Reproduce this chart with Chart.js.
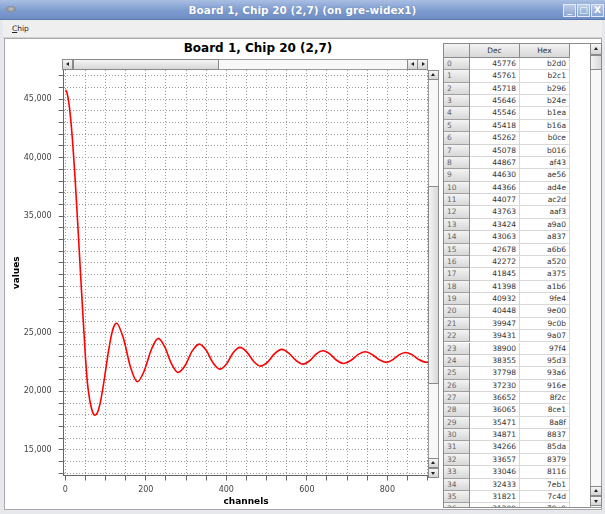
<!DOCTYPE html>
<html>
<head>
<meta charset="utf-8">
<script src="https://cdn.jsdelivr.net/npm/chart.js@4.4.1/dist/chart.umd.min.js"></script>
<style>
  html, body { margin: 0; padding: 0; }
  body { width: 605px; height: 514px; position: relative; overflow: hidden; background: #e6e8ec; font-family: "DejaVu Sans", sans-serif; }
  .abs { position: absolute; box-sizing: border-box; }
  #titlebar { left: 0; top: 0; width: 605px; height: 20px; background: linear-gradient(#a9bee2, #7e9cd0 55%, #6e8dc4); border-bottom: 1px solid #5b79ad; color: #fff; text-align: center; font: bold 10.5px "DejaVu Sans"; line-height: 20px; text-shadow: 0 0 1px #4a6698; }
  #winicon { left: 6px; top: 6px; width: 10px; height: 6px; border-radius: 50%; background: radial-gradient(#c8c8c8, #6a6a6a); }
  .wbtn { top: 4px; width: 13px; height: 13px; border: 1px solid #e4ebf7; background: linear-gradient(#bccbe8, #8ba6d4); color: #fff; font: bold 9px "DejaVu Sans"; line-height: 11px; text-align: center; }
  #menubar { left: 3px; top: 20px; width: 599px; height: 18px; background: #efefef; border-bottom: 1px solid #d2d2d2; }
  #menuchip { left: 12px; top: 24px; font: 7.5px "DejaVu Sans"; color: #222; }
  #content { left: 4px; top: 38px; width: 598px; height: 472px; background: #fff; border: 1px solid #a9a9a9; }
  #charttitle { left: 0; top: 40px; width: 516px; text-align: center; font: bold 12px "DejaVu Sans"; line-height: 16px; color: #000; }
  #plotwrap { left: 0; top: 40px; width: 440px; height: 474px; }
  .track { background: #f8f8f8; border: 1px solid #9c9c9c; }
  .btn { background: linear-gradient(#f6f6f6, #d4d4d4); border: 1px solid #8a8a8a; }
  .thumbh { background: linear-gradient(#f4f4f4, #d8d8d8); border: 1px solid #8a8a8a; }
  .thumbv { background: linear-gradient(90deg, #f4f4f4, #d8d8d8); border: 1px solid #8a8a8a; }
  .up::after, .dn::after, .lf::after, .rt::after { content: ""; position: absolute; left: 50%; top: 50%; width: 0; height: 0; }
  .up::after { margin: -2px 0 0 -2.5px; border-left: 2.5px solid transparent; border-right: 2.5px solid transparent; border-bottom: 3px solid #222; }
  .dn::after { margin: -1px 0 0 -2.5px; border-left: 2.5px solid transparent; border-right: 2.5px solid transparent; border-top: 3px solid #222; }
  .lf::after { margin: -2.5px 0 0 -2px; border-top: 2.5px solid transparent; border-bottom: 2.5px solid transparent; border-right: 3px solid #222; }
  .rt::after { margin: -2.5px 0 0 -1px; border-top: 2.5px solid transparent; border-bottom: 2.5px solid transparent; border-left: 3px solid #222; }
  .grip { width: 10px; height: 5px; background-image: radial-gradient(#888 35%, transparent 40%); background-size: 2px 2px; }
  #tablebox { left: 443px; top: 43px; width: 148px; height: 465px; border: 1px solid #8c8c8c; background: #fff; overflow: hidden; }
  .cell { position: absolute; box-sizing: border-box; font: 7.5px "DejaVu Sans"; white-space: nowrap; overflow: hidden; }
  .rh { background: linear-gradient(#f3f3f3, #d8d8d8); border-right: 1px solid #8c8c8c; border-bottom: 1px solid #a0a0a0; color: #666; padding-left: 3px; }
  .dc { border-right: 1px solid #d8d8d8; border-bottom: 1px solid #d8d8d8; color: #333; text-align: right; padding-right: 3px; }
  .hd { background: linear-gradient(#f3f3f3, #d8d8d8); border-right: 1px solid #8c8c8c; border-bottom: 1px solid #8c8c8c; color: #333; text-align: center; }
</style>
</head>
<body>
<div id="titlebar" class="abs">Board 1, Chip 20 (2,7) (on gre-widex1)</div>
<div id="winicon" class="abs"></div>
<div class="abs wbtn" style="left:563px">_</div>
<div class="abs wbtn" style="left:577px">□</div>
<div class="abs wbtn" style="left:591px">X</div>
<div id="menubar" class="abs"></div>
<div id="menuchip" class="abs"><u>C</u>hip</div>
<div id="content" class="abs"></div>
<div id="charttitle" class="abs">Board 1, Chip 20 (2,7)</div>
<div id="plotwrap" class="abs"><canvas id="plot" width="440" height="474"></canvas></div>

<!-- chart scrollbars -->
<div class="abs track" style="left:62px;top:59px;width:366px;height:11px"></div>
<div class="abs btn lf" style="left:62px;top:59px;width:11px;height:11px"></div>
<div class="abs thumbh" style="left:73px;top:59px;width:146px;height:11px"><div class="abs grip" style="left:67px;top:2px"></div></div>
<div class="abs btn lf" style="left:407px;top:59px;width:11px;height:11px"></div>
<div class="abs btn rt" style="left:417px;top:59px;width:11px;height:11px"></div>
<div class="abs track" style="left:428px;top:70px;width:11px;height:408px"></div>
<div class="abs btn up" style="left:428px;top:70px;width:11px;height:10px"></div>
<div class="abs thumbv" style="left:428px;top:186px;width:11px;height:198px"><div class="abs grip" style="top:95px;width:5px;height:10px;left:2px"></div></div>
<div class="abs btn up" style="left:428px;top:458px;width:11px;height:10px"></div>
<div class="abs btn dn" style="left:428px;top:468px;width:11px;height:10px"></div>

<div id="tablebox" class="abs"></div>
<!-- table scrollbar -->
<div class="abs track" style="left:590px;top:43px;width:12px;height:465px"></div>
<div class="abs btn up" style="left:590px;top:43px;width:12px;height:12px"></div>
<div class="abs thumbv" style="left:590px;top:55px;width:12px;height:15px"></div>
<div class="abs btn up" style="left:590px;top:486px;width:12px;height:10px"></div>
<div class="abs btn dn" style="left:590px;top:496px;width:12px;height:10px"></div>

<script>
// readout for channels 0..36 (last row is cut off in the window)
const tableDec = [
  45776, 45761, 45718, 45646, 45546, 45418, 45262, 45078, 44867, 44630,
  44366, 44077, 43763, 43424, 43063, 42678, 42272, 41845, 41398, 40932,
  40448, 39947, 39431, 38900, 38355, 37798, 37230, 36652, 36065, 35471,
  34871, 34266, 33657, 33046, 32433, 31821, 31209
];

// rest of the trace
const curveChannels = [
  40, 45, 50, 55, 60, 65, 70, 74, 80, 87, 94, 100, 107, 114, 120, 127,
  144, 162, 179, 196, 214, 231, 247, 264, 280, 298, 315, 333, 350, 367, 384,
  401, 417, 434, 451, 468, 485, 503, 520, 538, 555, 573, 590, 607, 623, 640,
  657, 674, 691, 709, 727, 745, 762, 780, 797, 813, 829, 845, 862, 879, 897, 902
];
const curveValues = [
  28750, 25800, 22950, 20700, 19400, 18550, 18050, 17950, 18200, 19060, 20410, 21770, 23370, 24720, 25500, 25830,
  24580, 22070, 20820, 21750, 23600, 24530, 23800, 22350, 21620, 22230, 23440, 24040, 23510, 22440, 21900,
  22370, 23300, 23760, 23360, 22560, 22160, 22520, 23230, 23590, 23280, 22650, 22330, 22620, 23190, 23470,
  23200, 22660, 22390, 22640, 23140, 23390, 23160, 22710, 22480, 22690, 23120, 23330, 23120, 22710, 22490, 22500
];

// 30,000 has no label in the original
const xTickLabels = [0, 200, 400, 600, 800];
const yTickLabels = [15000, 20000, 25000, 35000, 40000, 45000];
const xGridStep = 50;
const yGridStep = 1000;

const points = tableDec.map((v, i) => ({ x: i, y: v }))
  .concat(curveChannels.map((c, i) => ({ x: c, y: curveValues[i] })));

// table on the right
const tb = document.getElementById('tablebox');
const rowH = 12.37, headH = 14;
const cols = [[0, 26], [26, 50], [76, 50]];
function cell(cls, left, top, w, h, text) {
  const d = document.createElement('div');
  d.className = 'cell ' + cls;
  d.style.left = left + 'px'; d.style.top = top + 'px';
  d.style.width = w + 'px'; d.style.height = h + 'px';
  d.style.lineHeight = (h - 1) + 'px';
  d.textContent = text;
  tb.appendChild(d);
}
cell('hd', cols[0][0], 0, cols[0][1], headH, '');
cell('hd', cols[1][0], 0, cols[1][1], headH, 'Dec');
cell('hd', cols[2][0], 0, cols[2][1], headH, 'Hex');
tableDec.forEach((v, i) => {
  const top = headH + i * rowH;
  cell('rh', cols[0][0], top, cols[0][1], rowH, String(i));
  cell('dc', cols[1][0], top, cols[1][1], rowH, String(v));
  cell('dc', cols[2][0], top, cols[2][1], rowH, v.toString(16));
});

const tickFont = { family: 'DejaVu Sans', size: 8 };
const titleFont = { family: 'DejaVu Sans', size: 9, weight: 'bold' };

new Chart(document.getElementById('plot'), {
  type: 'line',
  data: {
    datasets: [{
      data: points,
      borderColor: '#ff0000',
      borderWidth: 1.6,
      pointRadius: 0,
      fill: false,
      cubicInterpolationMode: 'monotone'
    }]
  },
  options: {
    responsive: false,
    animation: false,
    events: [],
    layout: { padding: { top: 30, right: 11.6, left: 0, bottom: 0 } },
    plugins: { legend: { display: false }, tooltip: { enabled: false } },
    scales: {
      x: {
        type: 'linear',
        min: -4,
        max: 902,
        afterBuildTicks: (scale) => {
          const t = [];
          for (let v = 0; v <= 900; v += xGridStep) t.push({ value: v });
          scale.ticks = t;
        },
        afterFit: (scale) => { scale.height = 38.5; },
        ticks: {
          autoSkip: false, maxRotation: 0, font: tickFont, color: '#444', padding: 5,
          callback: (v) => xTickLabels.includes(v) ? String(v) : ''
        },
        grid: { color: '#9a9a9a', tickColor: '#666', tickLength: 5 },
        border: { color: '#666', dash: [1, 2] },
        title: { display: true, text: 'channels', font: titleFont, color: '#000', padding: { top: 0, bottom: 6.6 } }
      },
      y: {
        min: 12800,
        max: 47500,
        afterBuildTicks: (scale) => {
          const t = [];
          for (let v = 13000; v <= 47000; v += yGridStep) t.push({ value: v });
          scale.ticks = t;
        },
        afterFit: (scale) => { scale.width = 63.7; },
        ticks: {
          autoSkip: false, font: tickFont, color: '#444', padding: 7,
          callback: (v) => yTickLabels.includes(v) ? v.toLocaleString('en-US') : ''
        },
        grid: { color: '#9a9a9a', tickColor: '#666', tickLength: 5 },
        border: { color: '#666', dash: [1, 2] },
        title: { display: true, text: 'values', font: titleFont, color: '#000', padding: { top: 11.6, bottom: 0 } }
      }
    }
  }
});
</script>
</body>
</html>
